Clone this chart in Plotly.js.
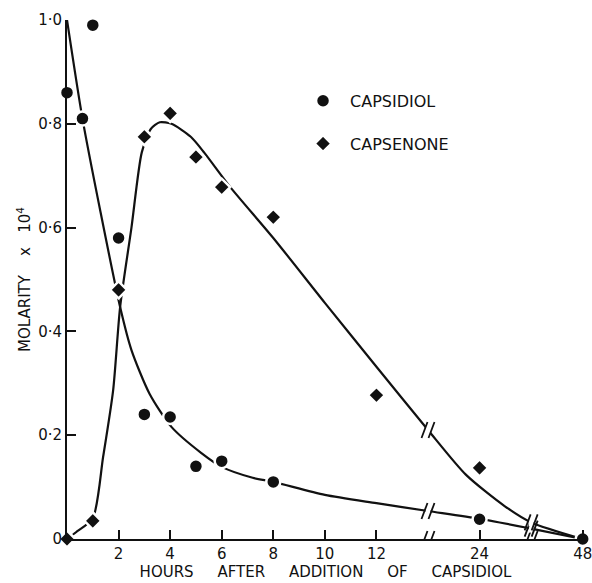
<!DOCTYPE html>
<html>
<head>
<meta charset="utf-8">
<script src="https://cdn.plot.ly/plotly-3.0.1.min.js"></script>
<style>html,body{margin:0;padding:0;background:#fff;}#chart{width:592px;height:583px;}</style>
</head>
<body>
<div id="chart"></div>
<script>
// ---- data (hours, molarity x 10^4) ----
var capsidiolHours = [0, 0.6, 1, 2, 3, 4, 5, 6, 8, 24, 48];
var capsidiolValues = [0.86, 0.81, 0.99, 0.58, 0.24, 0.235, 0.14, 0.15, 0.11, 0.038, 0];

var capsenoneHours = [0, 1, 2, 3, 4, 5, 6, 8, 12, 24];
var capsenoneValues = [0, 0.035, 0.48, 0.775, 0.82, 0.736, 0.678, 0.62, 0.277, 0.137];

// hand-drawn fitted curves
var capsidiolCurveHours = [0, 0.6, 1.3, 2.06, 2.5, 3.2, 4.05, 5.2, 6, 7.2, 8, 10, 12, 18, 24, 36, 48];
var capsidiolCurveValues = [1.0, 0.81, 0.63, 0.447, 0.364, 0.28, 0.216, 0.166, 0.139, 0.118, 0.11, 0.085, 0.069, 0.054, 0.039, 0.02, 0];

var capsenoneCurveHours = [0, 0.35, 1, 1.4, 1.79, 2.06, 2.5, 2.9, 3.25, 3.6, 4.05, 4.8, 5.33, 6.3, 8, 10, 12, 18, 22.4, 29.9, 36, 48];
var capsenoneCurveValues = [0, 0.013, 0.04, 0.158, 0.287, 0.447, 0.6, 0.745, 0.79, 0.803, 0.80, 0.775, 0.744, 0.68, 0.58, 0.455, 0.332, 0.21, 0.124, 0.063, 0.032, 0];

var tickHours = [2, 4, 6, 8, 10, 12, 24, 48];
var tickLabels = ['2', '4', '6', '8', '10', '12', '24', '48'];
var yTickVals = [0, 0.2, 0.4, 0.6, 0.8, 1.0];
var yTickLabels = ['0', '0\u00B72', '0\u00B74', '0\u00B76', '0\u00B78', '1\u00B70'];
var breakHours = [18, 36];

// broken time axis: 0-12 h linear, 12-24 h and 24-48 h compressed
function axisPos(h) {
  if (h <= 12) return h;
  if (h <= 24) return 12 + (h - 12) / 3;
  return 16 + (h - 24) / 6;
}
function mapAll(a) { return a.map(axisPos); }
function curveAt(hours, vals, h) {
  return vals[hours.indexOf(h)];
}

var FONT = 'DejaVu Sans, sans-serif';
var lineStyle = {color: '#111', width: 2.2, shape: 'spline', smoothing: 0.7};

var traces = [
  {x: mapAll(capsidiolCurveHours), y: capsidiolCurveValues, mode: 'lines', line: lineStyle,
   showlegend: false, cliponaxis: false, hoverinfo: 'skip'},
  {x: mapAll(capsenoneCurveHours), y: capsenoneCurveValues, mode: 'lines', line: lineStyle,
   showlegend: false, cliponaxis: false, hoverinfo: 'skip'},
  {x: mapAll(capsidiolHours), y: capsidiolValues, mode: 'markers', name: 'CAPSIDIOL',
   legendgroup: 'a', cliponaxis: false,
   marker: {symbol: 'circle', size: 14, color: '#111', line: {color: '#fff', width: 2.5}}},
  {x: mapAll(capsenoneHours), y: capsenoneValues, mode: 'markers', name: 'CAPSENONE',
   legendgroup: 'b', cliponaxis: false,
   marker: {symbol: 'diamond', size: 13, color: '#111', line: {color: '#fff', width: 2.5}}}
];

// break marks ("//") on the axis and on both curves
var shapes = [];
breakHours.forEach(function (h) {
  var xp = axisPos(h);
  var ys = [0, curveAt(capsidiolCurveHours, capsidiolCurveValues, h),
            curveAt(capsenoneCurveHours, capsenoneCurveValues, h)];
  ys.forEach(function (yv) {
    shapes.push({type: 'rect', xref: 'x', yref: 'y', xsizemode: 'pixel', ysizemode: 'pixel',
      xanchor: xp, yanchor: yv, x0: -2.5, x1: 2.5, y0: -4, y1: 4,
      fillcolor: '#fff', line: {width: 0}, layer: 'above'});
    [-3.5, 3.5].forEach(function (dx) {
      shapes.push({type: 'line', xref: 'x', yref: 'y', xsizemode: 'pixel', ysizemode: 'pixel',
        xanchor: xp, yanchor: yv, x0: dx - 3, x1: dx + 3, y0: -8, y1: 8,
        line: {color: '#111', width: 1.8}, layer: 'above'});
    });
  });
});

var layout = {
  width: 592, height: 583,
  margin: {l: 67, r: 8, t: 20, b: 44},
  paper_bgcolor: '#fff', plot_bgcolor: '#fff',
  font: {family: FONT, color: '#111', size: 14},
  showlegend: true,
  legend: {x: 0.443, y: 0.877, xanchor: 'left', yanchor: 'top', tracegroupgap: 19, itemwidth: 44,
           font: {family: FONT, size: 16, color: '#111'}, bgcolor: 'rgba(0,0,0,0)'},
  xaxis: {
    range: [0, 20.05], showgrid: false, zeroline: false,
    showline: true, linecolor: '#111', linewidth: 2,
    ticks: 'inside', ticklen: 9, tickwidth: 2, tickcolor: '#111',
    tickmode: 'array', tickvals: mapAll(tickHours), ticktext: tickLabels,
    ticklabeloverflow: 'allow',
    tickfont: {family: FONT, size: 15, color: '#111'},
    title: {text: 'HOURS\u00A0\u00A0\u00A0\u00A0 AFTER\u00A0\u00A0\u00A0\u00A0 ADDITION\u00A0\u00A0\u00A0\u00A0 OF\u00A0\u00A0\u00A0\u00A0 CAPSIDIOL',
            font: {family: FONT, size: 15, color: '#111'}, standoff: 2}
  },
  yaxis: {
    range: [0, 1.0], showgrid: false, zeroline: false,
    showline: true, linecolor: '#111', linewidth: 2,
    ticks: 'inside', ticklen: 9, tickwidth: 2, tickcolor: '#111',
    tickmode: 'array', tickvals: yTickVals, ticktext: yTickLabels,
    tickfont: {family: FONT, size: 15, color: '#111'},
    title: {text: 'MOLARITY\u00A0\u00A0\u00A0 x\u00A0\u00A0 10<sup>4</sup>\u00A0\u00A0\u00A0',
            font: {family: FONT, size: 15, color: '#111'}, standoff: 4}
  },
  shapes: shapes
};

Plotly.newPlot('chart', traces, layout, {staticPlot: true, displayModeBar: false});
</script>
</body>
</html>
